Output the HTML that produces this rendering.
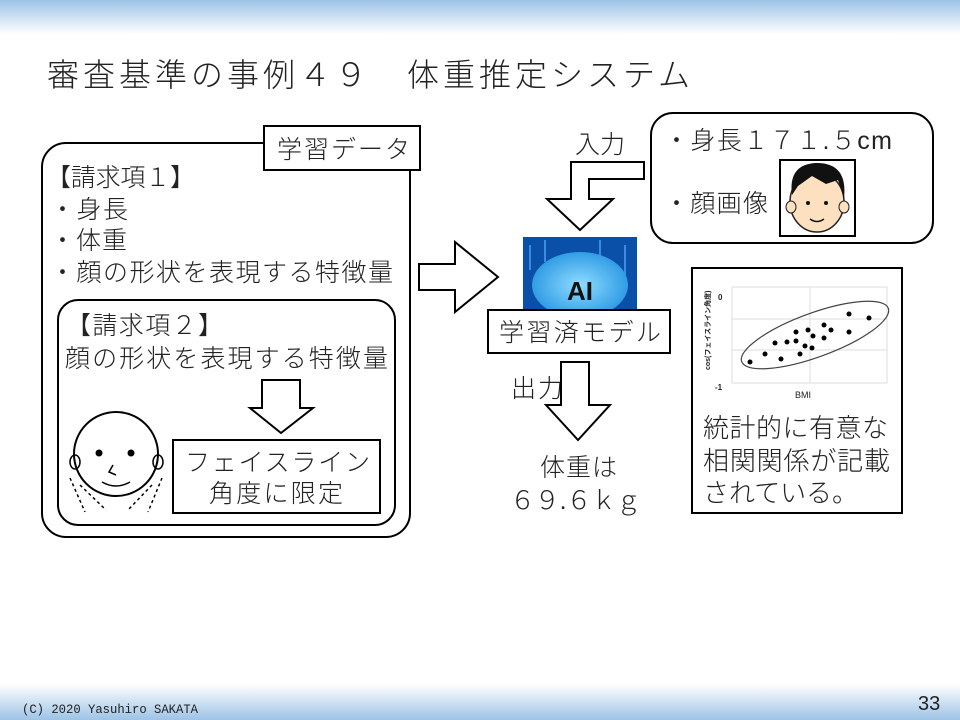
<!DOCTYPE html>
<html><head><meta charset="utf-8"><style>
html,body{margin:0;padding:0;background:#fff}
svg{display:block}
text{font-family:"Liberation Sans","Noto Sans CJK JP",sans-serif;fill:#222;font-weight:300}
</style></head><body>
<svg width="960" height="720" viewBox="0 0 960 720" xmlns="http://www.w3.org/2000/svg">
<defs>
<linearGradient id="gt" x1="0" y1="0" x2="0" y2="1"><stop offset="0" stop-color="#9dc3e6"/><stop offset="1" stop-color="#ffffff"/></linearGradient>
<linearGradient id="gb" x1="0" y1="0" x2="0" y2="1"><stop offset="0" stop-color="#ffffff"/><stop offset="1" stop-color="#9dc3e6"/></linearGradient>
<radialGradient id="br" cx="0.5" cy="0.5" r="0.6"><stop offset="0" stop-color="#8fdcff"/><stop offset="1" stop-color="#1e90e0"/></radialGradient>
</defs>
<rect x="0" y="0" width="960" height="34" fill="url(#gt)"/>
<rect x="0" y="684" width="960" height="36" fill="url(#gb)"/>
<text x="47" y="86" font-size="32" textLength="643" lengthAdjust="spacing">審査基準の事例４９　体重推定システム</text>
<text x="22" y="713" font-size="13" textLength="176" lengthAdjust="spacingAndGlyphs" style="font-family:'Liberation Mono',monospace;font-weight:400">(C) 2020 Yasuhiro SAKATA</text>
<text x="918" y="710" font-size="20">33</text>

<rect x="42" y="143" width="368" height="394" rx="24" fill="#fff" stroke="#000" stroke-width="2"/>
<rect x="264" y="126" width="156" height="44" fill="#fff" stroke="#000" stroke-width="2"/>
<text x="277" y="158" font-size="25" textLength="133" lengthAdjust="spacing">学習データ</text>
<text x="46" y="186" font-size="25" textLength="149" lengthAdjust="spacing">【請求項１】</text>
<text x="50" y="218" font-size="25" textLength="78" lengthAdjust="spacing">・身長</text>
<text x="50" y="249" font-size="25" textLength="77" lengthAdjust="spacing">・体重</text>
<text x="50" y="281" font-size="25" textLength="343" lengthAdjust="spacing">・顔の形状を表現する特徴量</text>
<rect x="58" y="300" width="337" height="225" rx="20" fill="#fff" stroke="#000" stroke-width="2"/>
<text x="66" y="334" font-size="25" textLength="157" lengthAdjust="spacing">【請求項２】</text>
<text x="65" y="367" font-size="25" textLength="323" lengthAdjust="spacing">顔の形状を表現する特徴量</text>
<path d="M262 380 H300 V408 H313 L281 433 L250 408 H262 Z" fill="#fff" stroke="#000" stroke-width="2"/>
<rect x="173" y="440" width="207" height="73" fill="#fff" stroke="#000" stroke-width="2"/>
<text x="185" y="471" font-size="25" textLength="185" lengthAdjust="spacing">フェイスライン</text>
<text x="209" y="502" font-size="25" textLength="134" lengthAdjust="spacing">角度に限定</text>
<circle cx="116" cy="454" r="42" fill="#fff" stroke="#000" stroke-width="2"/>
<ellipse cx="75" cy="462" rx="5" ry="7" fill="none" stroke="#000" stroke-width="1.5"/>
<ellipse cx="158" cy="462" rx="5" ry="7" fill="none" stroke="#000" stroke-width="1.5"/>
<circle cx="99" cy="453" r="3.5" fill="#000"/><circle cx="131" cy="453" r="3.5" fill="#000"/>
<path d="M113 465 L109 472 L116 475" fill="none" stroke="#000" stroke-width="1.5"/>
<path d="M102 482 Q116 490 130 482" fill="none" stroke="#000" stroke-width="1.5"/>
<path d="M70 478 L85 512 M80 485 L106 510 M162 478 L148 512 M152 485 L128 510" stroke="#000" stroke-width="1.5" stroke-dasharray="3,3"/>

<path d="M419 264 H455 V242 L498 277 L455 312 V290 H419 Z" fill="#fff" stroke="#000" stroke-width="2"/>

<text x="575" y="153" font-size="25" textLength="50" lengthAdjust="spacing">入力</text>
<path d="M644 162 H571 V199 H547 L580 230 L613 199 H589 V179 H644 Z" fill="#fff" stroke="#000" stroke-width="2"/>
<rect x="651" y="113" width="282" height="130" rx="22" fill="#fff" stroke="#000" stroke-width="2"/>
<text x="664" y="149" font-size="25" textLength="228" lengthAdjust="spacing">・身長１７１.５cm</text>
<text x="664" y="212" font-size="25" textLength="104" lengthAdjust="spacing">・顔画像</text>
<rect x="780" y="160" width="75" height="76" fill="#fff" stroke="#000" stroke-width="2"/>
<ellipse cx="817" cy="202" rx="27" ry="30" fill="#fde0c0" stroke="#222" stroke-width="1.5"/>
<path d="M792 195 Q788 165 815 163 Q848 162 844 198 L838 180 L826 184 L812 176 L798 186 Z" fill="#111"/>
<ellipse cx="791" cy="207" rx="5" ry="6" fill="#fde0c0" stroke="#222"/>
<ellipse cx="844" cy="207" rx="5" ry="6" fill="#fde0c0" stroke="#222"/>
<circle cx="808" cy="203" r="2" fill="#111"/><circle cx="826" cy="203" r="2" fill="#111"/>
<path d="M810 219 Q817 224 824 219" fill="none" stroke="#111" stroke-width="1.5"/>

<rect x="523" y="237" width="114" height="75" fill="#0a4fa8"/>
<path d="M530 245 V270 M545 240 V262 M600 240 V260 M625 245 V275" stroke="#3a8ce0" stroke-width="2"/>
<ellipse cx="580" cy="285" rx="48" ry="33" fill="url(#br)"/>
<text x="580" y="300" font-size="26" text-anchor="middle" style="fill:#111;font-weight:bold">AI</text>
<rect x="488" y="310" width="182" height="43" fill="#fff" stroke="#000" stroke-width="2"/>
<text x="499" y="341" font-size="25" textLength="162" lengthAdjust="spacing">学習済モデル</text>

<text x="511" y="397" font-size="25" textLength="52" lengthAdjust="spacing">出力</text>
<path d="M561 362 H589 V405 H610 L578 440 L546 405 H561 Z" fill="#fff" stroke="#000" stroke-width="2"/>
<text x="540" y="476" font-size="25" textLength="77" lengthAdjust="spacing">体重は</text>
<text x="510" y="509" font-size="25" textLength="131" lengthAdjust="spacing">６９.６ｋｇ</text>

<rect x="692" y="268" width="210" height="245" fill="#fff" stroke="#000" stroke-width="2"/>
<rect x="732" y="287" width="155" height="96" fill="#fff" stroke="#ddd"/>
<path d="M732 319 H887 M732 350 H887 M810 287 V383" stroke="#ddd"/>
<ellipse cx="815" cy="335" rx="78" ry="22" transform="rotate(-20 815 335)" fill="none" stroke="#444" stroke-width="1.2"/>
<g fill="#000">
<circle cx="750" cy="362" r="2.5"/><circle cx="765" cy="354" r="2.5"/><circle cx="781" cy="359" r="2.5"/>
<circle cx="775" cy="343" r="2.5"/><circle cx="787" cy="342" r="2.5"/><circle cx="796" cy="341" r="2.5"/>
<circle cx="796" cy="332" r="2.5"/><circle cx="808" cy="330" r="2.5"/><circle cx="813" cy="336" r="2.5"/>
<circle cx="805" cy="346" r="2.5"/><circle cx="812" cy="348" r="2.5"/><circle cx="800" cy="354" r="2.5"/>
<circle cx="824" cy="325" r="2.5"/><circle cx="831" cy="330" r="2.5"/><circle cx="824" cy="338" r="2.5"/>
<circle cx="849" cy="314" r="2.5"/><circle cx="869" cy="318" r="2.5"/><circle cx="849" cy="332" r="2.5"/>
</g>
<text x="718" y="300" font-size="8" style="font-weight:bold">0</text>
<text x="715" y="390" font-size="8" style="font-weight:bold">-1</text>
<text x="710" y="370" font-size="7" transform="rotate(-90 710 370)" style="font-weight:bold">cos(フェイスライン角度)</text>
<text x="803" y="398" font-size="9" text-anchor="middle">BMI</text>
<text x="703" y="437" font-size="26" textLength="185" lengthAdjust="spacing">統計的に有意な</text>
<text x="703" y="470" font-size="26" textLength="187" lengthAdjust="spacing">相関関係が記載</text>
<text x="703" y="502" font-size="26" textLength="155" lengthAdjust="spacing">されている。</text>
</svg>
</body></html>
